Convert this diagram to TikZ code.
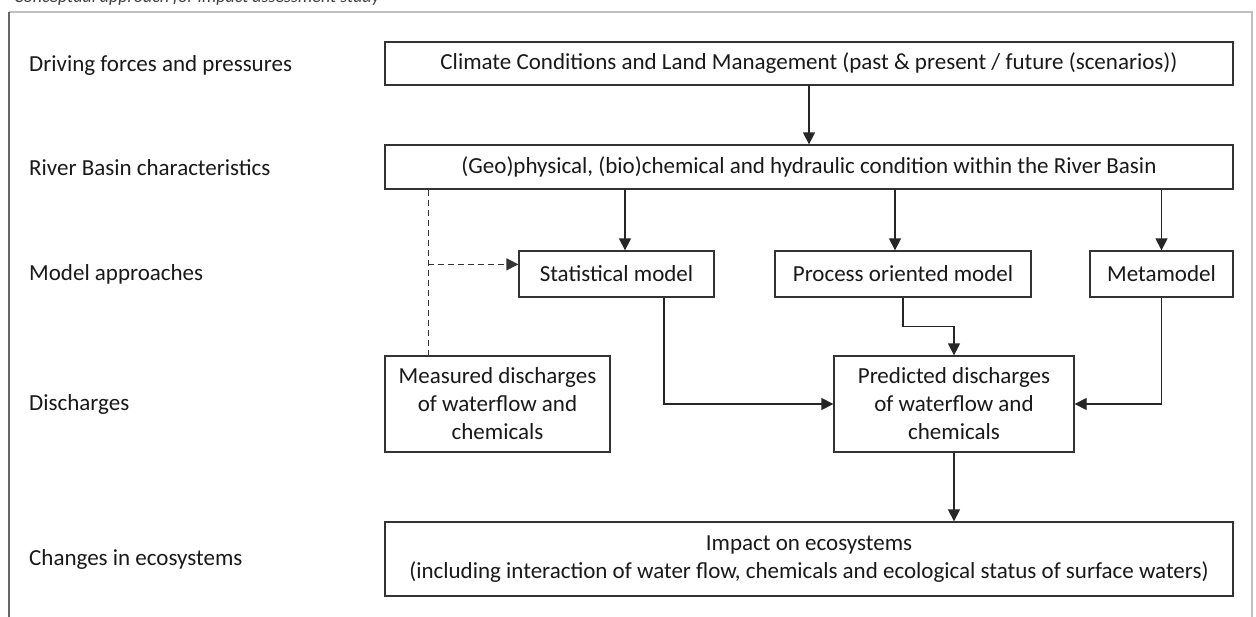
\documentclass[tikz,border=0pt]{standalone}
\usepackage{fontspec}
\setmainfont{Carlito}
\usetikzlibrary{arrows.meta}
\begin{document}
\begin{tikzpicture}[x=1pt,y=-1pt,
  txt/.style={font=\fontsize{23}{28}\selectfont, text=black!90},
  box/.style={txt, draw=black!80, line width=1.3pt, inner sep=0pt, align=center},
  lab/.style={txt, anchor=west, inner sep=0pt},
  arr/.style={draw=black!85, line width=1.3pt, -{Triangle[length=12pt,width=12pt]}},
  dashln/.style={draw=black!80, line width=1.3pt, dash pattern=on 6pt off 4pt},
]
\useasboundingbox (0,0) rectangle (1256,616);
\clip (0,0) rectangle (1256,616);
\fill[white] (0,0) rectangle (1256,616);
% frame
\draw[black!25, line width=1.5pt] (9,12) -- (1252,12) -- (1252,630);
\draw[black!60, line width=1.5pt] (9,12) -- (9,630);
% cut-off title
\node[anchor=base west, inner sep=0pt, font=\fontsize{18}{20}\selectfont\itshape, text=black!75] (title) at (14,2.5) {Conceptual approach for impact assessment study};
% row labels
\node[lab] (l1) at (29,65) {Driving forces and pressures};
\node[lab] (l2) at (29,168) {River Basin characteristics};
\node[lab] (l3) at (29,274) {Model approaches};
\node[lab] (l4) at (29,404) {Discharges};
\node[lab] (l5) at (29,559) {Changes in ecosystems};
% boxes
\node[box, minimum width=848pt, minimum height=43pt] (b1) at (809,63.5) {Climate Conditions and Land Management (past \& present / future (scenarios))};
\node[box, minimum width=848pt, minimum height=44pt] (b2) at (809,167) {(Geo)physical, (bio)chemical and hydraulic condition within the River Basin};
\node[box, minimum width=195pt, minimum height=46pt] (stat) at (616.5,274) {Statistical model};
\node[box, minimum width=256pt, minimum height=46pt] (proc) at (903,274) {Process oriented model};
\node[box, minimum width=143pt, minimum height=46pt] (meta) at (1161.5,274) {Metamodel};
\node[box, minimum width=225pt, minimum height=96pt] (meas) at (497.5,404) {Measured discharges\\of waterflow and\\chemicals};
\node[box, minimum width=240pt, minimum height=96pt] (pred) at (954,404) {Predicted discharges\\of waterflow and\\chemicals};
\node[box, minimum width=848pt, minimum height=74pt] (imp) at (809,559) {Impact on ecosystems\\(including interaction of water flow, chemicals and ecological status of surface waters)};
% connectors
\draw[arr] (b1.south) -- (b2.north);
\draw[arr] ([xshift=8.5pt]stat.north |- b2.south) -- ([xshift=8.5pt]stat.north);
\draw[arr] ([xshift=-8pt]proc.north |- b2.south) -- ([xshift=-8pt]proc.north);
\draw[arr] (meta.north |- b2.south) -- (meta.north);
\draw[arr] ([xshift=47.5pt]stat.south) |- (pred.west);
\draw[arr] (meta.south) |- (pred.east);
\draw[arr] (proc.south) -- ++(0,29) -| (pred.north);
\draw[arr] (pred.south) -- (pred.south |- imp.north);
\coordinate (dx) at ([xshift=44pt]meas.north west);
\coordinate (sw) at ([yshift=-14pt]stat.north west);
\draw[dashln] (dx |- b2.south) -- (dx);
\draw[dashln, -{Triangle[length=12pt,width=12pt]}] (dx |- sw) -- (sw);
\end{tikzpicture}
\end{document}
